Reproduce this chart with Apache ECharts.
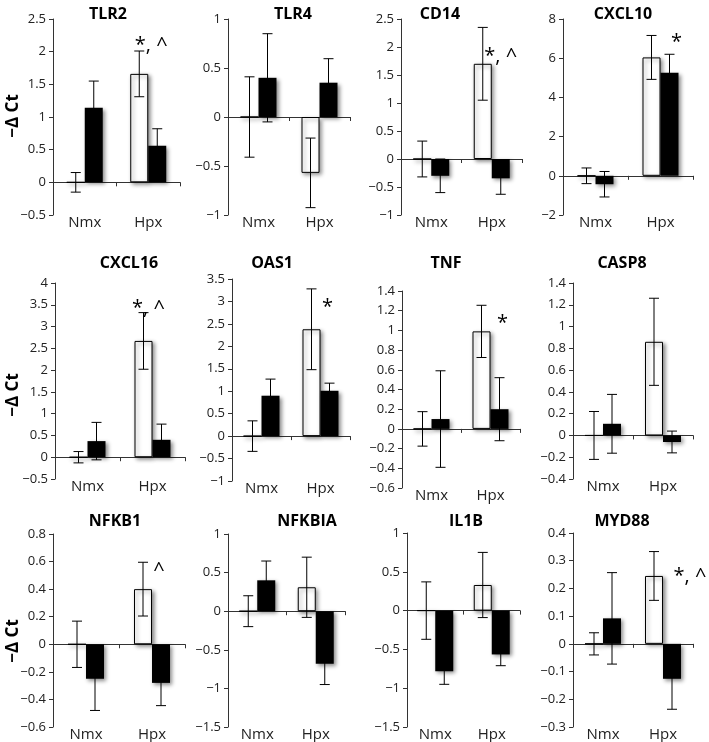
<!DOCTYPE html>
<html><head><meta charset="utf-8">
<script src="https://cdn.jsdelivr.net/npm/echarts@6/dist/echarts.min.js"></script>
<style>html,body{margin:0;padding:0;background:#fff}#c{width:709px;height:742px}</style>
</head><body><div id="c"></div>
<script>
// ---------------- data ----------------
const genes = ['TLR2','TLR4','CD14','CXCL10','CXCL16','OAS1','TNF','CASP8','NFKB1','NFKBIA','IL1B','MYD88'];
const categories = ['Nmx','Hpx'];
// open (white) bars: mean per gene [Nmx, Hpx]
const openMean = [[0,1.66],[0,-0.57],[0,1.70],[0,6.04],[0,2.67],[0,2.38],[0,0.99],[0,0.86],[0,0.40],[0,0.31],[0,0.33],[0,0.245]];
const openErr  = [[0.15,0.35],[0.41,0.355],[0.32,0.65],[0.40,1.12],[0.13,0.65],[0.34,0.90],[0.175,0.265],[0.22,0.40],[0.168,0.195],[0.20,0.39],[0.37,0.42],[0.04,0.088]];
// filled (black) bars
const filledMean = [[1.14,0.56],[0.40,0.35],[-0.30,-0.345],[-0.43,5.26],[0.37,0.40],[0.90,1.01],[0.10,0.20],[0.107,-0.06],[-0.25,-0.28],[0.40,-0.68],[-0.78,-0.565],[0.092,-0.126]];
const filledErr  = [[0.41,0.26],[0.45,0.245],[0.30,0.285],[0.65,0.94],[0.43,0.36],[0.37,0.17],[0.49,0.32],[0.27,0.10],[0.23,0.165],[0.25,0.27],[0.17,0.145],[0.165,0.11]];
// axes
const yMin  = [-0.5,-1,-1,-2,-0.5,-1,-0.6,-0.4,-0.6,-1.5,-1.5,-0.3];
const yMax  = [2.5,1,2.5,8,4,3.5,1.4,1.4,0.8,1,1,0.4];
const yStep = [0.5,0.5,0.5,2,0.5,0.5,0.2,0.2,0.2,0.5,0.5,0.1];
// significance marks (placed above Hpx)
const sigText = ['*, ^','','*, ^','*','*, ^','*','*','','^','','','*, ^'];
const sigY    = [2.1,null,1.84,6.8,3.43,2.88,1.07,null,0.54,null,null,0.245];
const yTitle = '\u2212\u0394 Ct';

// ---------------- layout ----------------
const boxes = [ // left, top, width, height
  [53,19,127,196],[228,19,122,196],[401,19,121,196],[563,19,130,196],
  [55,283,130,196],[232,279,118,202],[402,291,118,197],[573,283,120,196],
  [53,534,132,194],[228,534,117,195],[407,533,113,195],[573,533,120,194]
];
const titleX = [103,288,435,618,124,267,441,617,110,302,461,617];
const titleTop = [1,1,1,1,250,250,250,250,508,508,508,508];
const sigDx = [3,null,9,16,-4,7,12,null,7,null,null,27];
const yTitlePos = [[13,116],[13,395],[13,641]];
const BW = 18;
const FONT = '"Open Sans", "Liberation Sans", sans-serif';

const grid=[], xAxis=[], yAxis=[], series=[], title=[];
const fmt = v => String(Math.round(v*1000)/1000).replace('-', '\u2212');

genes.forEach((g,i)=>{
  const b = boxes[i];
  grid.push({left:b[0], top:b[1], width:b[2], height:b[3], containLabel:false});
  title.push({text:g, left:titleX[i], top:titleTop[i], textAlign:'center',
    textStyle:{fontFamily:FONT, fontWeight:'bold', fontSize:16, color:'#000'}});
  // axis line at zero with boundary ticks
  xAxis.push({type:'category', gridIndex:i, data:categories, position:'bottom',
    axisLine:{onZero:true, lineStyle:{color:'#333', width:1}},
    axisTick:{show:true, length:4, inside:false, lineStyle:{color:'#333'}},
    axisLabel:{show:false}, splitLine:{show:false}});
  // labels at bottom
  xAxis.push({type:'category', gridIndex:i, data:categories, position:'bottom',
    axisLine:{show:false, onZero:false}, axisTick:{show:false},
    axisLabel:{show:true, margin:0, fontSize:15, fontFamily:FONT, color:'#222'},
    splitLine:{show:false}});
  yAxis.push({type:'value', gridIndex:i, min:yMin[i], max:yMax[i], interval:yStep[i],
    axisLine:{show:true, lineStyle:{color:'#333', width:1}},
    axisTick:{show:true, length:4, inside:false, lineStyle:{color:'#333'}},
    axisLabel:{fontSize:13, fontFamily:FONT, color:'#222', margin:7, formatter:fmt},
    splitLine:{show:false}});
  const shadow = {shadowColor:'rgba(0,0,0,0.45)', shadowBlur:4, shadowOffsetX:2, shadowOffsetY:2};
  series.push({type:'bar', name:'open', xAxisIndex:2*i, yAxisIndex:i, data:openMean[i],
    barWidth:BW, barGap:'0%', animation:false,
    itemStyle:Object.assign({color:'#fff', borderColor:'#000', borderWidth:1}, shadow)});
  series.push({type:'bar', name:'filled', xAxisIndex:2*i, yAxisIndex:i, data:filledMean[i],
    barWidth:BW, barGap:'0%', animation:false,
    itemStyle:Object.assign({color:'#000'}, shadow)});
  const errData = [];
  categories.forEach((c,k)=>{
    errData.push([k, openMean[i][k], openErr[i][k], -1]);
    errData.push([k, filledMean[i][k], filledErr[i][k], 1]);
  });
  series.push({type:'custom', name:'err', xAxisIndex:2*i, yAxisIndex:i, z:5, animation:false,
    data:errData,
    renderItem:(params, api)=>{
      const k=api.value(0), m=api.value(1), e=api.value(2), s=api.value(3);
      const x = api.coord([k,m])[0] + s*BW/2;
      const yt = api.coord([k,m+e])[1], yb = api.coord([k,m-e])[1];
      const st = {stroke:'#000', lineWidth:1};
      return {type:'group', children:[
        {type:'line', shape:{x1:x,y1:yt,x2:x,y2:yb}, style:st},
        {type:'line', shape:{x1:x-5,y1:yt,x2:x+5,y2:yt}, style:st},
        {type:'line', shape:{x1:x-5,y1:yb,x2:x+5,y2:yb}, style:st}
      ]};
    }});
  if (sigText[i]) {
    series.push({type:'custom', name:'sig', xAxisIndex:2*i, yAxisIndex:i, z:6, animation:false,
      data:[[1, sigY[i]]],
      renderItem:(params, api)=>{
        const p = api.coord([api.value(0), api.value(1)]);
        return {type:'text', x:p[0]+sigDx[i], y:p[1],
          style:{text:sigText[i], fontSize:20, fontFamily:FONT, fill:'#000',
            textAlign:'center', textVerticalAlign:'middle'}};
      }});
  }
});

const graphic = yTitlePos.map(p=>({type:'text', x:p[0], y:p[1], rotation:Math.PI/2,
  style:{text:yTitle, font:'bold 17px '+FONT, fill:'#000', textAlign:'center', textVerticalAlign:'middle'}}));

const chart = echarts.init(document.getElementById('c'), null, {renderer:'canvas'});
chart.setOption({animation:false, backgroundColor:'#fff', title, grid, xAxis, yAxis, series, graphic});
</script>
</body></html>
